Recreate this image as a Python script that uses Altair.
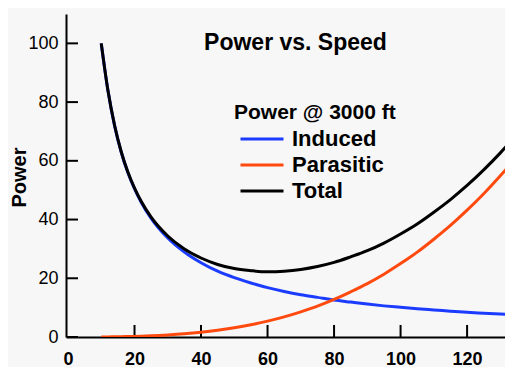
import altair as alt
import pandas as pd

# Values
speed = [10, 12, 14, 16, 18, 20, 22, 25, 30, 35, 40, 45, 50, 55, 60, 65, 70, 75,
         80, 85, 90, 95, 100, 105, 110, 115, 120, 125, 130, 135]
induced = [100.0, 84.0, 72.0, 63.0, 56.0, 50.5, 45.9, 40.4, 33.7, 28.9, 25.3, 22.4,
           20.2, 18.4, 16.8, 15.5, 14.4, 13.5, 12.6, 11.9, 11.2, 10.6, 10.1, 9.6,
           9.2, 8.8, 8.4, 8.1, 7.8, 7.5]
parasitic = [0.03, 0.04, 0.07, 0.10, 0.15, 0.20, 0.27, 0.39, 0.68, 1.07, 1.60, 2.28,
             3.13, 4.16, 5.40, 6.87, 8.58, 10.5, 12.8, 15.4, 18.2, 21.4, 25.0, 28.9,
             33.3, 38.0, 43.2, 48.8, 54.9, 61.5]
total = [100.0, 84.0, 72.1, 63.1, 56.2, 50.7, 46.2, 40.8, 34.4, 30.0, 26.9, 24.7,
         23.3, 22.6, 22.2, 22.4, 23.0, 24.0, 25.4, 27.3, 29.4, 32.0, 35.1, 38.5,
         42.5, 46.8, 51.6, 56.9, 62.7, 69.0]

series_names = ["Induced", "Parasitic", "Total"]
series_colors = ["#1b3cff", "#ff4a0f", "#000000"]
y_tick_values = [0, 20, 40, 60, 80, 100]
x_tick_values = [0, 20, 40, 60, 80, 100, 120]
x_tick_marks = [20, 40, 60, 80, 100, 120]

X_MIN = -0.6
X_MAX = 131.4
Y_TICK_LEN = 3.6   # inward tick length in x data units
X_TICK_LEN = 4.1   # inward tick length in y data units

rows = []
# inward tick marks first (drawn underneath), as short two-point segments
tick_ids = []
for v in y_tick_values:
    tid = f"ytick{v}"
    tick_ids.append(tid)
    rows.append({"speed": X_MIN, "power": v, "series": tid, "w": 2})
    rows.append({"speed": X_MIN + Y_TICK_LEN, "power": v, "series": tid, "w": 2})
for v in x_tick_marks:
    tid = f"xtick{v}"
    tick_ids.append(tid)
    rows.append({"speed": v, "power": 0, "series": tid, "w": 2})
    rows.append({"speed": v, "power": X_TICK_LEN, "series": tid, "w": 2})
for name, vals in zip(series_names, [induced, parasitic, total]):
    for s, v in zip(speed, vals):
        rows.append({"speed": s, "power": v, "series": name, "w": 3})
df = pd.DataFrame(rows)

FONT = "Liberation Sans"
x_scale = alt.Scale(domain=[X_MIN, X_MAX], nice=False, zero=False)
y_scale = alt.Scale(domain=[0, 110], nice=False, zero=False)

x_axis = alt.Axis(values=x_tick_values, ticks=False, grid=False,
                  domainColor="black", domainWidth=2, labelFont=FONT,
                  labelFontSize=18, labelFontWeight="bold", labelColor="black",
                  labelPadding=13, labelFlush=False, title=None)
y_axis = alt.Axis(values=y_tick_values, ticks=False, grid=False,
                  domainColor="black", domainWidth=2, labelFont=FONT,
                  labelFontSize=18, labelColor="black", labelPadding=8,
                  title="Power", titleFont=FONT, titleFontSize=20,
                  titleFontWeight="bold", titleColor="black", titleAngle=270,
                  titleBaseline="middle", titleAlign="center", titleX=-47, titleY=163)

legend = alt.Legend(title="Power @ 3000 ft", orient="none", legendX=168, legendY=88,
                    values=series_names,
                    symbolType="M-4.3,0L4.3,0", symbolSize=100, symbolStrokeWidth=3,
                    symbolOffset=17, labelOffset=19, padding=0, rowPadding=4,
                    titlePadding=5, titleFont=FONT, titleFontSize=21,
                    titleFontWeight="bold", titleColor="black", labelFont=FONT,
                    labelFontSize=22, labelFontWeight="bold", labelColor="black")

color_domain = tick_ids + series_names
color_range = ["#000000"] * len(tick_ids) + series_colors

chart = alt.Chart(df).mark_line(clip=True, interpolate="monotone").encode(
    x=alt.X("speed:Q", scale=x_scale, axis=x_axis, title=None),
    y=alt.Y("power:Q", scale=y_scale, axis=y_axis, title="Power"),
    color=alt.Color("series:N", scale=alt.Scale(domain=color_domain, range=color_range),
                    legend=legend),
    strokeWidth=alt.StrokeWidth("w:Q", scale=None, legend=None),
).properties(
    width=439, height=323,
    title=alt.TitleParams(text="Power vs. Speed", font=FONT, fontSize=23,
                          fontWeight="bold", color="black", anchor="middle",
                          frame="group", baseline="alphabetic", offset=0, dx=10, dy=59),
    autosize=alt.AutoSizeParams(type="none"),
    padding={"left": 58, "top": 6, "right": 0, "bottom": 30},
    background="#f7f7f7",
).configure_view(stroke=None)

chart.save("out.html", embed_options={"renderer": "svg", "actions": False})
